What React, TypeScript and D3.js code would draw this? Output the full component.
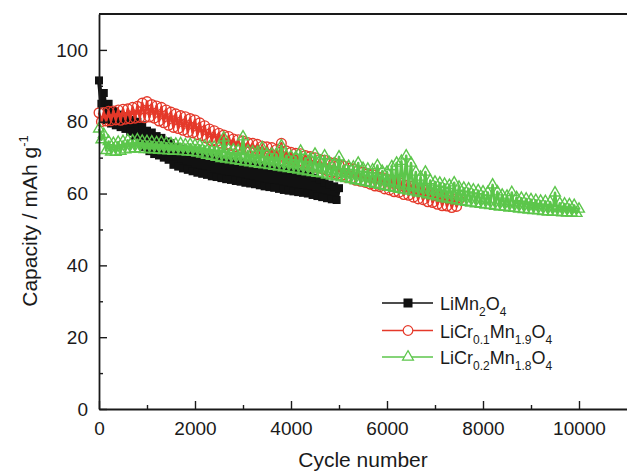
import React, { useEffect, useRef } from "react";
import * as d3 from "d3";

// capacity read every 50 cycles
const cycleStep = 50;

const liMn2O4 = [
  91.5, 85, 88, 80.5, 85, 79.5, 83, 79, 82, 78.5,
  81.5, 78, 81, 77.2, 80.5, 76, 80, 74.5, 79, 73,
  77.5, 71.8, 77, 71, 76, 70.6, 75.5, 70, 74.5, 69.4,
  74, 68, 73, 67.5, 72.5, 67, 72, 66.6, 71.5, 66.2,
  71, 65.8, 70.8, 65.5, 70.5, 65.2, 70.2, 64.8, 70, 64.6,
  70.1, 64.3, 69.5, 64, 69.2, 63.8, 69, 63.5, 68.9, 63.3,
  68.8, 63, 68.5, 62.8, 68.2, 62.6, 68, 62.3, 67.8, 62,
  67.5, 61.8, 67.2, 61.6, 67, 61.3, 66.8, 61, 66.5, 60.8,
  66.3, 60.6, 66, 60.4, 65.8, 60.2, 65.4, 60, 65, 59.6,
  64.4, 59.3, 63.8, 59, 63.2, 58.7, 62.5, 58.4, 62, 58.2,
  61.5,
];

const liCr01 = [
  82.5, 80, 82.6, 80.2, 82.9, 80.3, 83, 80.5, 83.3, 80.4,
  83.5, 80.7, 83.6, 80.8, 84, 81, 84.3, 81.2, 85.2, 81.1,
  85.6, 81.3, 84.8, 81, 84.4, 80.2, 84, 79.7, 83.3, 79,
  82.7, 78.4, 82.2, 78.1, 81.7, 77.6, 81.4, 77.1, 80.9, 76.9,
  80.5, 76.4, 79.7, 76.1, 78.9, 75.4, 78, 74.7, 77.5, 74.5,
  76.8, 74, 76.3, 73.6, 75.9, 73.4, 75.2, 73, 75, 72.6,
  74.6, 72.5, 74.2, 72.1, 74, 71.9, 73.7, 71.5, 73.2, 71.3,
  73, 70.9, 72.8, 70.7, 72.3, 70.4, 74, 70, 71.9, 69.6,
  71.5, 69.3, 71.2, 69, 71.1, 68.5, 70.6, 68.2, 70.3, 67.6,
  70, 67.2, 69.5, 66.9, 69.3, 66.4, 68.7, 65.9, 68.5, 65.5,
  68, 65, 67.7, 64.5, 67.1, 64.2, 66.9, 63.7, 66.3, 63.4,
  66, 63.1, 65.5, 62.6, 65.3, 62.1, 64.7, 61.9, 64.5, 61.3,
  64, 61, 63.7, 60.5, 63.1, 60.3, 62.9, 59.7, 62.3, 59.5,
  62, 59, 61.7, 58.5, 61.1, 58.3, 60.9, 57.7, 60.3, 57.5,
  60, 57, 59.7, 56.6, 59.1, 56.5, 58.9, 56.1, 58.5, 56.4,
  58.3,
];

const liCr02 = [
  78, 75, 76.5, 72, 74.5, 71.6, 74, 71.5, 74.3, 71.8,
  74.5, 72.2, 74.8, 72.4, 74.7, 72.5, 75, 72.4, 74.6, 72.3,
  74.5, 72.3, 74.4, 72.2, 74.2, 72.1, 74.3, 72, 74, 71.9,
  73.9, 71.8, 73.8, 71.8, 73.9, 71.7, 73.6, 71.6, 73.7, 71.5,
  73.5, 71.3, 73.4, 71, 73.2, 70.7, 73, 70.4, 72.9, 70.1,
  72.7, 69.8, 75.5, 69.6, 72.3, 69.4, 72.2, 69.2, 72, 69,
  75.8, 68.8, 71.8, 68.6, 71.6, 68.4, 71.5, 68.2, 72.8, 68,
  71, 67.8, 71, 67.6, 70.8, 67.4, 73.3, 67.2, 70.5, 67,
  70.3, 66.8, 70.1, 66.6, 71.8, 66.3, 69.8, 66.1, 69.6, 65.9,
  71, 65.7, 69.1, 65.5, 70.5, 65.2, 68.6, 64.9, 68.3, 64.7,
  70.2, 64.4, 67.8, 64.2, 67.6, 63.9, 67.4, 63.6, 68.5, 63.4,
  67, 63.1, 66.8, 62.9, 66.6, 62.6, 67.8, 62.3, 66.2, 62,
  66, 61.8, 67.5, 61.5, 68.5, 61.2, 69, 61, 70.5, 60.7,
  68.5, 60.5, 66, 60.2, 64.6, 60, 66, 59.7, 63.6, 59.4,
  63.2, 59.1, 62.9, 58.8, 62.6, 58.5, 62.3, 58.3, 63, 58,
  61.8, 57.8, 61.5, 57.6, 61.3, 57.4, 61, 57.2, 60.8, 57,
  60.5, 56.8, 60.3, 56.7, 62.4, 56.5, 60.5, 56.3, 59.6, 56.2,
  59.3, 56, 60.3, 55.9, 58.9, 55.7, 58.7, 55.6, 58.5, 55.4,
  58.3, 55.3, 58.1, 55.2, 57.9, 55, 57.8, 54.9, 57.6, 54.8,
  60.2, 54.8, 57.3, 54.7, 57.1, 54.6, 56.9, 54.6, 56.7, 54.5,
  55.7,
];

const seriesColors = ["#111111", "#e5392a", "#5cc64b"];
const seriesMarkers = ["square", "circle", "triangle"];
const seriesLineWidths = [4, 2.6, 2.6];
// legend labels as [text, subscript] pieces
const legendLabels = [
  [["LiMn", false], ["2", true], ["O", false], ["4", true]],
  [["LiCr", false], ["0.1", true], ["Mn", false], ["1.9", true], ["O", false], ["4", true]],
  [["LiCr", false], ["0.2", true], ["Mn", false], ["1.8", true], ["O", false], ["4", true]],
];

const xMajor = [0, 2000, 4000, 6000, 8000, 10000];
const xMinor = [1000, 3000, 5000, 7000, 9000];
const yMajor = [0, 20, 40, 60, 80, 100];
const yMinor = [10, 30, 50, 70, 90];

const FONT = "'Liberation Sans', Arial, Helvetica, sans-serif";

const App = () => {
  const svgRef = useRef<SVGSVGElement>(null);

  useEffect(() => {
    const svg = d3.select(svgRef.current);
    svg.selectAll("*").remove();

    const width = 627;
    const height = 472;
    const margin = { top: 14, right: 0, bottom: 63, left: 99 };

    const x = d3.scaleLinear().domain([0, 11000]).range([margin.left, width - margin.right]);
    const y = d3.scaleLinear().domain([0, 110]).range([height - margin.bottom, margin.top]);

    const axisColor = "#1a1a1a";

    // series
    const allSeries = [liMn2O4, liCr01, liCr02];
    allSeries.forEach((vals, si) => {
      const pts = vals.map((v, i) => [i * cycleStep, v]);
      const color = seriesColors[si];
      const g = svg.append("g");
      const line = d3.line<number[]>().x(d => x(d[0])).y(d => y(d[1]));
      g.append("path")
        .attr("d", line(pts))
        .attr("fill", "none")
        .attr("stroke", color)
        .attr("stroke-linejoin", "round")
        .attr("stroke-width", seriesLineWidths[si]);

      const kind = seriesMarkers[si];
      if (kind === "square") {
        g.selectAll("rect").data(pts).enter().append("rect")
          .attr("x", d => x(d[0]) - 4)
          .attr("y", d => y(d[1]) - 4)
          .attr("width", 8)
          .attr("height", 8)
          .attr("fill", color);
      } else if (kind === "circle") {
        g.selectAll("circle").data(pts).enter().append("circle")
          .attr("cx", d => x(d[0]))
          .attr("cy", d => y(d[1]))
          .attr("r", 4.8)
          .attr("fill", "none")
          .attr("stroke", color)
          .attr("stroke-width", 1.4);
      } else {
        const tri = d3.symbol().type(d3.symbolTriangle).size(50);
        g.selectAll("path.m").data(pts).enter().append("path")
          .attr("class", "m")
          .attr("d", tri())
          .attr("transform", d => `translate(${x(d[0])},${y(d[1])})`)
          .attr("fill", "none")
          .attr("stroke", color)
          .attr("stroke-width", 1.4);
      }
    });

    // axes
    svg.append("g")
      .attr("transform", `translate(0,${y(0)})`)
      .call(d3.axisBottom(x).tickValues(xMajor).tickSize(-8).tickSizeOuter(0).tickPadding(12.5).tickFormat(d3.format("d")));
    svg.append("g")
      .attr("transform", `translate(0,${y(0)})`)
      .call(d3.axisBottom(x).tickValues(xMinor).tickSize(-4).tickSizeOuter(0).tickFormat(() => ""))
      .select(".domain").remove();

    svg.append("g")
      .attr("transform", `translate(${x(0)},0)`)
      .call(d3.axisLeft(y).tickValues(yMajor).tickSize(-8).tickSizeOuter(0).tickPadding(11));
    svg.append("g")
      .attr("transform", `translate(${x(0)},0)`)
      .call(d3.axisLeft(y).tickValues(yMinor).tickSize(-4).tickSizeOuter(0).tickFormat(() => ""))
      .select(".domain").remove();

    svg.selectAll(".domain").attr("stroke", axisColor).attr("stroke-width", 1.8);
    svg.selectAll(".tick line").attr("stroke", axisColor).attr("stroke-width", 1.4);
    svg.selectAll(".tick text")
      .attr("fill", "#1a1a1a")
      .style("font-family", FONT)
      .style("font-size", "19px");

    // top frame line
    svg.append("line")
      .attr("x1", x(0)).attr("x2", width)
      .attr("y1", y(110)).attr("y2", y(110))
      .attr("stroke", axisColor)
      .attr("stroke-width", 1.8);

    // axis titles
    svg.append("text")
      .attr("x", (x(0) + width) / 2)
      .attr("y", 467)
      .attr("text-anchor", "middle")
      .style("font-family", FONT)
      .style("font-size", "21px")
      .attr("fill", "#1a1a1a")
      .text("Cycle number");

    const yt = svg.append("text")
      .attr("transform", "translate(37,221) rotate(-90)")
      .attr("text-anchor", "middle")
      .style("font-family", FONT)
      .style("font-size", "21px")
      .attr("fill", "#1a1a1a");
    yt.append("tspan").text("Capacity / mAh g");
    yt.append("tspan").attr("dy", -9).style("font-size", "13px").text("-1");

    // legend
    const legendRows = [303, 330.5, 357];
    legendLabels.forEach((parts, i) => {
      const ly = legendRows[i];
      const color = seriesColors[i];
      const lg = svg.append("g");
      lg.append("line")
        .attr("x1", 382).attr("x2", 433)
        .attr("y1", ly).attr("y2", ly)
        .attr("stroke", color)
        .attr("stroke-width", 1.3);
      const kind = seriesMarkers[i];
      if (kind === "square") {
        lg.append("rect").attr("x", 403.5).attr("y", ly - 4.5).attr("width", 9).attr("height", 9).attr("fill", color);
      } else if (kind === "circle") {
        lg.append("circle").attr("cx", 408).attr("cy", ly).attr("r", 4.8)
          .attr("fill", "white").attr("stroke", color).attr("stroke-width", 1.2);
      } else {
        lg.append("path").attr("d", d3.symbol().type(d3.symbolTriangle).size(52)())
          .attr("transform", `translate(408,${ly})`)
          .attr("fill", "white").attr("stroke", color).attr("stroke-width", 1.2);
      }
      const t = lg.append("text")
        .attr("x", 440)
        .attr("y", ly + 7)
        .style("font-family", FONT)
        .style("font-size", "18px")
        .attr("fill", "#1a1a1a");
      let shifted = false;
      parts.forEach(([txt, sub]) => {
        const ts = t.append("tspan").text(txt as string);
        if (sub && !shifted) { ts.attr("dy", 6).style("font-size", "12px"); shifted = true; }
        else if (!sub && shifted) { ts.attr("dy", -6); shifted = false; }
        else if (sub) ts.style("font-size", "12px");
      });
    });
  }, []);

  return (
    <svg
      ref={svgRef}
      width={627}
      height={472}
      style={{ position: "absolute", left: 0, top: 0, background: "white" }}
    />
  );
};

export default App;
